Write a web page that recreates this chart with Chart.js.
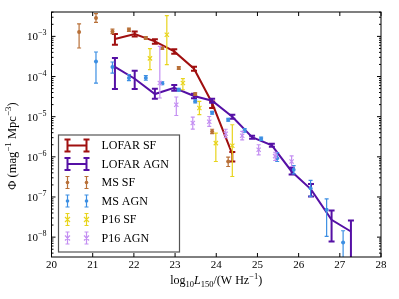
<!DOCTYPE html>
<html>
<head>
<meta charset="utf-8">
<script src="https://cdn.jsdelivr.net/npm/chart.js@4.4.0/dist/chart.umd.min.js"></script>
<style>
  body { margin: 0; background: #fff; }
  #wrap { width: 399px; height: 299px; }
</style>
</head>
<body>
<div id="wrap"><canvas id="myChart"></canvas></div>
<script>
// legend names
var seriesNames = ['LOFAR SF', 'LOFAR AGN', 'MS SF', 'MS AGN', 'P16 SF', 'P16 AGN'];

// LOFAR SF (line)
var lofarSFX  = [21.54, 22.02, 22.51, 22.98, 23.46, 23.90, 24.39];
var lofarSFY  = [8.61e-4, 1.15e-3, 7.50e-4, 4.23e-4, 1.57e-4, 2.19e-5, 1.17e-6];
var lofarSFHi = [1.15e-3, 1.33e-3, 8.51e-4, 4.80e-4, 1.76e-4, 2.40e-5, 1.32e-6];
var lofarSFLo = [6.21e-4, 1.00e-3, 6.58e-4, 3.71e-4, 1.40e-4, 1.64e-5, 7.66e-7];

// LOFAR AGN (line)
var lofarAGNX  = [21.54, 22.02, 22.51, 22.98, 23.46, 23.90, 24.39, 24.87, 25.35, 25.83, 26.30, 26.80, 27.27];
var lofarAGNY  = [1.73e-4, 8.83e-5, 3.67e-5, 5.26e-5, 3.27e-5, 2.49e-5, 9.98e-6, 3.08e-6, 1.94e-6, 4.32e-7, 1.55e-7, 2.70e-8, 1.38e-8];
var lofarAGNHi = [2.90e-4, 1.40e-4, 4.97e-5, 6.15e-5, 3.73e-5, 2.80e-5, 1.12e-5, 3.36e-6, 2.12e-6, 5.35e-7, 2.10e-7, 4.60e-8, 2.59e-8];
var lofarAGNLo = [4.89e-5, 4.89e-5, 2.80e-5, 4.44e-5, 2.88e-5, 2.22e-5, 8.89e-6, 2.82e-6, 1.78e-6, 3.63e-7, 1.03e-7, 7.76e-9, 2.5e-9];

// MS SF
var msSFX  = [20.67, 21.08, 21.48, 21.88, 22.29, 22.69, 23.09, 23.49, 23.90, 24.29];
var msSFY  = [1.29e-3, 2.88e-3, 1.33e-3, 1.47e-3, 9.12e-4, 5.14e-4, 1.63e-4, 3.67e-5, 4.29e-6, 7.66e-7];
var msSFHi = [2.04e-3, 3.68e-3, 1.51e-3, 1.60e-3, 9.84e-4, 5.53e-4, 1.76e-4, 3.95e-5, 4.86e-6, 9.86e-7];
var msSFLo = [5.14e-4, 2.23e-3, 1.17e-3, 1.33e-3, 8.38e-4, 4.71e-4, 1.50e-4, 3.37e-5, 3.80e-6, 5.75e-7];

// MS AGN
var msAGNX  = [21.08, 21.48, 21.88, 22.29, 22.69, 23.09, 23.49, 23.90, 24.29, 24.69, 25.09, 25.48, 25.88, 26.29, 26.68, 27.08];
var msAGNY  = [2.38e-4, 1.73e-4, 9.18e-5, 9.18e-5, 6.81e-5, 4.69e-5, 2.43e-5, 1.25e-5, 8.39e-6, 4.54e-6, 2.82e-6, 9.20e-7, 4.76e-7, 1.66e-7, 4.79e-8, 7.33e-9];
var msAGNHi = [4.08e-4, 2.30e-4, 1.11e-4, 1.05e-4, 7.41e-5, 5.11e-5, 2.64e-5, 1.36e-5, 9.14e-6, 5.02e-6, 3.08e-6, 1.27e-6, 6.01e-7, 2.58e-7, 9.02e-8, 1.44e-8];
var msAGNLo = [6.89e-5, 1.22e-4, 7.87e-5, 8.09e-5, 6.25e-5, 4.31e-5, 2.22e-5, 1.15e-5, 7.69e-6, 4.10e-6, 2.58e-6, 7.66e-7, 3.78e-7, 1.03e-7, 1.04e-8, 2.4e-9];

// P16 SF
var p16SFX  = [22.39, 22.80, 23.19, 23.59, 23.99, 24.39];
var p16SFY  = [2.83e-4, 1.10e-3, 6.89e-5, 1.64e-5, 2.20e-6, 1.89e-6];
var p16SFHi = [4.93e-4, 3.28e-3, 8.83e-5, 2.40e-5, 3.91e-6, 6.30e-6];
var p16SFLo = [1.48e-4, 1.97e-4, 4.69e-5, 1.12e-5, 7.66e-7, 3.24e-7];

// P16 AGN
var p16AGNX  = [22.63, 23.03, 23.43, 23.83, 24.23, 24.63, 25.03, 25.43, 25.83];
var p16AGNY  = [6.90e-5, 1.99e-5, 6.95e-6, 7.50e-6, 3.77e-6, 3.36e-6, 1.50e-6, 1.04e-6, 7.67e-7];
var p16AGNHi = [5.64e-4, 3.09e-5, 9.79e-6, 1.01e-5, 4.86e-6, 4.29e-6, 2.00e-6, 1.30e-6, 1.06e-6];
var p16AGNLo = [2.92e-5, 1.07e-5, 4.92e-6, 5.71e-6, 2.99e-6, 2.66e-6, 1.12e-6, 8.11e-7, 5.75e-7];

var xTicks = [20, 21, 22, 23, 24, 25, 26, 27, 28];
var yDecades = [-8, -7, -6, -5, -4, -3];

var colors = ['#a00f0f', '#5510a5', '#b87038', '#3c8fe3', '#e8d41c', '#c48ff2'];
var serif = "'Liberation Serif', 'DejaVu Serif', serif";

function pts(xs, ys) {
  return xs.map(function(x, i) { return { x: x, y: ys[i] }; });
}

function runs(ctx, parts, x, y, align) {
  var total = 0;
  parts.forEach(function(p) {
    ctx.font = (p.it ? 'italic ' : '') + p.s + 'px ' + serif;
    p.w = ctx.measureText(p.t).width;
    total += p.w;
  });
  var cx = align === 'center' ? x - total / 2 : x - total;
  ctx.textBaseline = 'alphabetic';
  ctx.textAlign = 'left';
  parts.forEach(function(p) {
    ctx.font = (p.it ? 'italic ' : '') + p.s + 'px ' + serif;
    ctx.fillText(p.t, cx, y + (p.dy || 0));
    cx += p.w;
  });
}

var errorBars = {
  id: 'errorBars',
  beforeDatasetDraw: function(chart, args) {
    var ds = chart.data.datasets[args.index];
    if (!ds.errLo) return;
    var ctx = chart.ctx, xs = chart.scales.x, ys = chart.scales.y, a = chart.chartArea;
    ctx.save();
    ctx.beginPath();
    ctx.rect(a.left, a.top, a.right - a.left, a.bottom - a.top);
    ctx.clip();
    ctx.strokeStyle = ds.barColor;
    ctx.lineWidth = ds.errWidth;
    ds.data.forEach(function(p, i) {
      var px = xs.getPixelForValue(p.x);
      var y1 = ys.getPixelForValue(ds.errHi[i]);
      var y2 = ys.getPixelForValue(ds.errLo[i]);
      ctx.beginPath();
      ctx.moveTo(px, y1); ctx.lineTo(px, y2);
      ctx.moveTo(px - ds.cap, y1); ctx.lineTo(px + ds.cap, y1);
      ctx.moveTo(px - ds.cap, y2); ctx.lineTo(px + ds.cap, y2);
      ctx.stroke();
    });
    ctx.restore();
  }
};

var frame = {
  id: 'frame',
  afterDraw: function(chart) {
    var ctx = chart.ctx, a = chart.chartArea, xs = chart.scales.x, ys = chart.scales.y;
    ctx.save();
    ctx.strokeStyle = '#000';
    ctx.lineWidth = 1;
    ctx.strokeRect(a.left, a.top, a.right - a.left, a.bottom - a.top);

    // x ticks, inward top and bottom
    ctx.beginPath();
    xTicks.forEach(function(v) {
      var px = xs.getPixelForValue(v);
      ctx.moveTo(px, a.bottom); ctx.lineTo(px, a.bottom - 4);
      ctx.moveTo(px, a.top); ctx.lineTo(px, a.top + 4);
    });
    // y ticks, major and minor
    for (var d = -9; d <= -2; d++) {
      for (var k = 1; k <= 9; k++) {
        var v = k * Math.pow(10, d);
        if (v < ys.min || v > ys.max) continue;
        var py = ys.getPixelForValue(v);
        var len = k === 1 ? 4 : 2;
        ctx.moveTo(a.left, py); ctx.lineTo(a.left + len, py);
        ctx.moveTo(a.right, py); ctx.lineTo(a.right - len, py);
      }
    }
    ctx.stroke();

    // y tick labels
    ctx.fillStyle = '#000';
    yDecades.forEach(function(d) {
      var py = ys.getPixelForValue(Math.pow(10, d));
      runs(ctx, [{ t: '10', s: 11 }, { t: '\u2212' + (-d), s: 8, dy: -5 }], a.left - 5, py + 4, 'right');
    });

    // axis titles
    runs(ctx, [
      { t: 'log', s: 12 }, { t: '10', s: 8.5, dy: 3 }, { t: 'L', s: 12, it: true },
      { t: '150', s: 8.5, dy: 3 }, { t: '/(W Hz', s: 12 }, { t: '\u22121', s: 8.5, dy: -5 }, { t: ')', s: 12 }
    ], (a.left + a.right) / 2, 284, 'center');

    ctx.save();
    ctx.translate(16, 146);
    ctx.rotate(-Math.PI / 2);
    runs(ctx, [
      { t: '\u03a6 (mag', s: 12.5 }, { t: '\u22121', s: 9, dy: -5 }, { t: ' Mpc', s: 12.5 },
      { t: '\u22123', s: 9, dy: -5 }, { t: ')', s: 12.5 }
    ], 0, 0, 'center');
    ctx.restore();

    // legend
    var bx = a.left + 7, by = a.bottom - 122, bw = 121, bh = 117;
    ctx.fillStyle = '#fff';
    ctx.fillRect(bx, by, bw, bh);
    ctx.strokeStyle = '#555';
    ctx.lineWidth = 1.2;
    ctx.strokeRect(bx, by, bw, bh);
    seriesNames.forEach(function(name, i) {
      var cy = by + 10.5 + i * 18.5;
      var x1 = bx + 9, x2 = bx + 28;
      var big = i < 2;
      var hh = 6, cap = big ? 3 : 2;
      ctx.strokeStyle = colors[i];
      ctx.lineWidth = big ? 2 : 1.2;
      ctx.beginPath();
      if (big) { ctx.moveTo(x1, cy); ctx.lineTo(x2, cy); }
      [x1, x2].forEach(function(x) {
        ctx.moveTo(x, cy - hh); ctx.lineTo(x, cy + hh);
        ctx.moveTo(x - cap, cy - hh); ctx.lineTo(x + cap, cy - hh);
        ctx.moveTo(x - cap, cy + hh); ctx.lineTo(x + cap, cy + hh);
      });
      ctx.stroke();
      if (i === 2 || i === 3) {
        ctx.fillStyle = colors[i];
        [x1, x2].forEach(function(x) { ctx.beginPath(); ctx.arc(x, cy, 1.8, 0, Math.PI * 2); ctx.fill(); });
      }
      if (i >= 4) {
        ctx.lineWidth = 1.2;
        ctx.beginPath();
        [x1, x2].forEach(function(x) {
          ctx.moveTo(x - 2.5, cy - 2.5); ctx.lineTo(x + 2.5, cy + 2.5);
          ctx.moveTo(x - 2.5, cy + 2.5); ctx.lineTo(x + 2.5, cy - 2.5);
        });
        ctx.stroke();
      }
      ctx.fillStyle = '#000';
      ctx.font = '12px ' + serif;
      ctx.textAlign = 'left';
      ctx.textBaseline = 'middle';
      ctx.fillText(name, bx + 43, cy + 0.5);
    });
    ctx.restore();
  }
};

var ctx = document.getElementById('myChart').getContext('2d');
var myChart = new Chart(ctx, {
  type: 'scatter',
  data: {
    datasets: [{
      label: seriesNames[0], data: pts(lofarSFX, lofarSFY), errHi: lofarSFHi, errLo: lofarSFLo,
      showLine: true, borderColor: colors[0], barColor: colors[0], borderWidth: 2, pointRadius: 0,
      errWidth: 2, cap: 3, order: 6
    }, {
      label: seriesNames[1], data: pts(lofarAGNX, lofarAGNY), errHi: lofarAGNHi, errLo: lofarAGNLo,
      showLine: true, borderColor: colors[1], barColor: colors[1], borderWidth: 2, pointRadius: 0,
      errWidth: 2, cap: 3, order: 5
    }, {
      label: seriesNames[2], data: pts(msSFX, msSFY), errHi: msSFHi, errLo: msSFLo,
      backgroundColor: colors[2], borderColor: colors[2], barColor: colors[2], pointRadius: 2, borderWidth: 0,
      errWidth: 1.2, cap: 2, order: 4
    }, {
      label: seriesNames[3], data: pts(msAGNX, msAGNY), errHi: msAGNHi, errLo: msAGNLo,
      backgroundColor: colors[3], borderColor: colors[3], barColor: colors[3], pointRadius: 2, borderWidth: 0,
      errWidth: 1.2, cap: 2, order: 3
    }, {
      label: seriesNames[4], data: pts(p16SFX, p16SFY), errHi: p16SFHi, errLo: p16SFLo,
      pointStyle: 'crossRot', borderColor: colors[4], barColor: colors[4], pointRadius: 3, borderWidth: 1.2,
      errWidth: 1.2, cap: 2, order: 2
    }, {
      label: seriesNames[5], data: pts(p16AGNX, p16AGNY), errHi: p16AGNHi, errLo: p16AGNLo,
      pointStyle: 'crossRot', borderColor: colors[5], barColor: colors[5], pointRadius: 3, borderWidth: 1.2,
      errWidth: 1.2, cap: 2, order: 1
    }]
  },
  options: {
    responsive: true,
    maintainAspectRatio: false,
    animation: false,
    devicePixelRatio: 1,
    layout: { padding: { top: 12, right: 18, left: 0, bottom: 0 } },
    plugins: { legend: { display: false }, tooltip: { enabled: false } },
    scales: {
      x: {
        type: 'linear', min: 20, max: 28,
        afterBuildTicks: function(s) { s.ticks = xTicks.map(function(v) { return { value: v }; }); },
        ticks: { font: { family: serif, size: 11 }, color: '#000', padding: 2, maxRotation: 0 },
        grid: { display: false, drawTicks: false },
        border: { display: false },
        afterFit: function(s) { s.height = 42; }
      },
      y: {
        type: 'logarithmic', min: 3.2e-9, max: 4.05e-3,
        ticks: { display: false },
        grid: { display: false, drawTicks: false },
        border: { display: false },
        afterFit: function(s) { s.width = 51.5; }
      }
    }
  },
  plugins: [errorBars, frame]
});
</script>
</body>
</html>
